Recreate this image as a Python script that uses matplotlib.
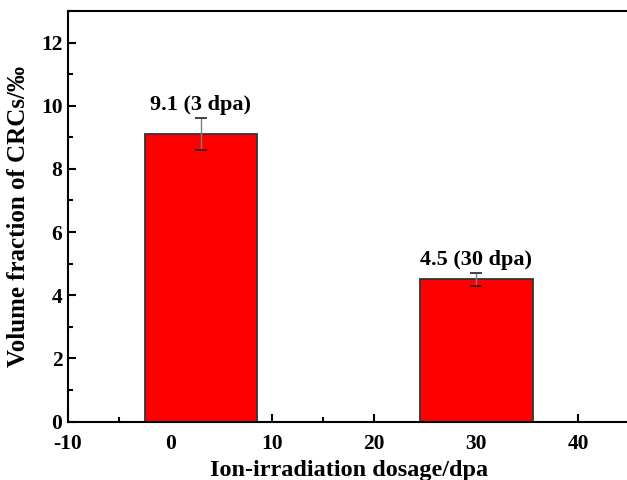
import numpy as np
import matplotlib.pyplot as plt
from matplotlib.ticker import MultipleLocator

# data
dose = [3, 30]
fraction = [9.1, 4.5]
err = [0.5, 0.2]
labels = ["9.1 (3 dpa)", "4.5 (30 dpa)"]

plt.rcParams['font.family'] = ['Liberation Serif', 'DejaVu Serif']
plt.rcParams['font.weight'] = 'bold'
plt.rcParams['axes.unicode_minus'] = False

fig = plt.figure(figsize=(6.27, 4.8), dpi=100)
# the original is cropped just past the right spine
ax = fig.add_axes([68 / 627, 58.5 / 480, 561.5 / 627, 410.5 / 480])

ax.bar(dose, fraction, width=11, color='#ff0000', edgecolor='#333333', linewidth=1.3, zorder=2)
eb = ax.errorbar(dose, fraction, yerr=err, fmt='none', ecolor='#222222',
                 elinewidth=1, capsize=4.5, capthick=1.2, zorder=3)
eb[2][0].set_color('#808080')

for x, y, e, t in zip(dose, fraction, err, labels):
    ax.text(x, y + e + 0.27, t, ha='center', va='baseline', fontsize=16, fontweight='bold')

ax.set_xlim(-10, 45)
ax.set_ylim(0, 13)
ax.xaxis.set_major_locator(MultipleLocator(10))
ax.xaxis.set_minor_locator(MultipleLocator(5))
ax.yaxis.set_major_locator(MultipleLocator(2))
ax.yaxis.set_minor_locator(MultipleLocator(1))
ax.tick_params(which='both', direction='in', width=1.5, labelsize=15.5, top=False, right=False)
ax.tick_params(which='major', length=6)
ax.tick_params(which='minor', length=3.5)
ax.tick_params(axis='x', which='major', pad=9)
ax.tick_params(axis='y', which='major', pad=4)
for s in ax.spines.values():
    s.set_linewidth(1.5)

ax.set_xlabel("Ion-irradiation dosage/dpa", fontsize=17.5, fontweight='bold', labelpad=4)
ax.set_ylabel("Volume fraction of CRCs/‰", fontsize=18, fontweight='bold', labelpad=8)

fig.savefig("out.png", dpi=100)
